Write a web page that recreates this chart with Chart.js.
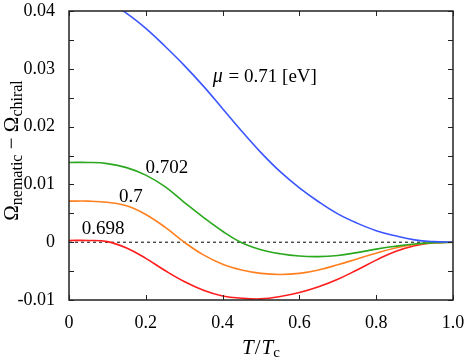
<!DOCTYPE html>
<html>
<head>
<meta charset="utf-8">
<script src="https://cdn.jsdelivr.net/npm/chart.js@4/dist/chart.umd.min.js"></script>
<style>
  html, body { margin: 0; padding: 0; background: #fff; }
</style>
</head>
<body>
<canvas id="myChart" width="464" height="362"></canvas>
<script>
// T / Tc grid
const tValues = [0, 0.05, 0.1, 0.15, 0.2, 0.25, 0.3, 0.35, 0.4, 0.45, 0.5,
                 0.55, 0.6, 0.65, 0.7, 0.75, 0.8, 0.85, 0.9, 0.95, 1.0];

// Omega_nematic - Omega_chiral for each mu [eV]
const mu0710 = [0.0428, 0.0426, 0.0416, 0.0396, 0.0370, 0.0339, 0.0306, 0.0270, 0.0231, 0.0192, 0.0155,
                0.0122, 0.0094, 0.0070, 0.0049, 0.0033, 0.0020, 0.0011, 0.0004, 0.0001, 0];
const mu0702 = [0.0138, 0.0138, 0.0136, 0.0129, 0.0116, 0.0096, 0.0069, 0.0043, 0.0019, -0.0001, -0.0013,
                -0.0020, -0.0024, -0.0025, -0.0023, -0.0018, -0.0012, -0.0007, -0.0003, -0.0001, 0];
const mu0700 = [0.0071, 0.0071, 0.0069, 0.0063, 0.0048, 0.0026, 0.0000, -0.0022, -0.0038, -0.0048, -0.0054,
                -0.0056, -0.0054, -0.0048, -0.0039, -0.0029, -0.0019, -0.0010, -0.0004, -0.0001, 0];
const mu0698 = [0.0003, 0.0003, 0.0001, -0.0010, -0.0028, -0.0049, -0.0068, -0.0083, -0.0093, -0.0097, -0.0098,
                -0.0094, -0.0087, -0.0077, -0.0064, -0.0048, -0.0031, -0.0016, -0.0006, -0.0001, 0];
const zeroLine = [0, 0];

const xTicks = [0, 0.2, 0.4, 0.6, 0.8, 1.0];
const yTicks = [-0.01, -0.005, 0, 0.005, 0.01, 0.015, 0.02, 0.025, 0.03, 0.035, 0.04];

// curve labels (data units)
const curveLabels = [
    {text: '0.702', x: 0.255, y: 0.0129},
    {text: '0.7', x: 0.161, y: 0.0078},
    {text: '0.698', x: 0.089, y: 0.0022}
];

const serif = '"Liberation Serif", "DejaVu Serif", serif';

function pts(values) {
    return values.map((v, i) => ({x: tValues[i], y: v}));
}

function line(values, color) {
    return {
        data: pts(values),
        borderColor: color,
        borderWidth: 1.6,
        pointRadius: 0,
        fill: false,
        tension: 0.4
    };
}

// draw a row of text pieces, some of them as subscripts
function drawPieces(ctx, pieces, cx, baseline) {
    let total = 0;
    pieces.forEach(p => {
        ctx.font = p.font;
        p.w = ctx.measureText(p.text).width + (p.gap || 0);
        total += p.w;
    });
    let x = cx - total / 2;
    pieces.forEach(p => {
        ctx.font = p.font;
        ctx.fillText(p.text, x, baseline + (p.dy || 0));
        x += p.w;
    });
}

const framePlugin = {
    id: 'frame',
    afterDraw(chart) {
        const ctx = chart.ctx;
        const a = chart.chartArea;
        const xs = chart.scales.x;
        const ys = chart.scales.y;
        ctx.save();
        ctx.strokeStyle = '#222';
        ctx.lineWidth = 1.5;
        ctx.strokeRect(a.left, a.top, a.right - a.left, a.bottom - a.top);

        ctx.lineWidth = 1;
        ctx.beginPath();
        xTicks.forEach(t => {
            const px = Math.round(xs.getPixelForValue(t)) + 0.5;
            ctx.moveTo(px, a.bottom); ctx.lineTo(px, a.bottom - 5);
            ctx.moveTo(px, a.top); ctx.lineTo(px, a.top + 5);
        });
        yTicks.forEach(t => {
            const py = Math.round(ys.getPixelForValue(t)) + 0.5;
            ctx.moveTo(a.left, py); ctx.lineTo(a.left + 5, py);
            ctx.moveTo(a.right, py); ctx.lineTo(a.right - 5, py);
        });
        ctx.stroke();

        ctx.fillStyle = '#000';
        ctx.textBaseline = 'middle';
        ctx.textAlign = 'center';
        ctx.font = '19px ' + serif;
        curveLabels.forEach(l => {
            ctx.fillText(l.text, xs.getPixelForValue(l.x), ys.getPixelForValue(l.y));
        });

        ctx.textAlign = 'left';
        ctx.textBaseline = 'alphabetic';
        drawPieces(ctx, [
            {text: 'μ', font: 'italic 20px ' + serif, gap: 1},
            {text: ' = 0.71 [eV]', font: '19px ' + serif}
        ], xs.getPixelForValue(0.51), ys.getPixelForValue(0.0288) + 6);

        // x axis title
        drawPieces(ctx, [
            {text: 'T', font: 'italic 21px ' + serif, gap: 1},
            {text: '/', font: '21px ' + serif, gap: 1},
            {text: 'T', font: 'italic 21px ' + serif},
            {text: 'c', font: '15px ' + serif, dy: 3}
        ], (a.left + a.right) / 2, 354);

        // y axis title
        ctx.translate(18, (a.top + a.bottom) / 2 - 5);
        ctx.rotate(-Math.PI / 2);
        drawPieces(ctx, [
            {text: 'Ω', font: '21px ' + serif},
            {text: 'nematic', font: '16px ' + serif, dy: 4},
            {text: ' − ', font: '21px ' + serif},
            {text: 'Ω', font: '21px ' + serif},
            {text: 'chiral', font: '16px ' + serif, dy: 4}
        ], 0, 0);
        ctx.restore();
    }
};

new Chart(document.getElementById('myChart'), {
    type: 'line',
    data: {
        datasets: [
            line(mu0710, '#3a55ff'),
            line(mu0702, '#2aa81e'),
            line(mu0700, '#ff8020'),
            line(mu0698, '#ff1c1c'),
            {
                data: [{x: 0, y: zeroLine[0]}, {x: 1, y: zeroLine[1]}],
                borderColor: '#000',
                borderWidth: 1,
                borderDash: [3, 3],
                pointRadius: 0
            }
        ]
    },
    options: {
        responsive: false,
        devicePixelRatio: 1,
        animation: false,
        layout: {padding: {top: 11, right: 11, left: 0, bottom: 0}},
        plugins: {legend: {display: false}, tooltip: {enabled: false}},
        scales: {
            x: {
                type: 'linear',
                min: 0,
                max: 1,
                grid: {display: false},
                border: {display: false},
                ticks: {
                    stepSize: 0.2,
                    padding: 4,
                    color: '#000',
                    font: {family: serif, size: 18},
                    maxRotation: 0,
                    callback: v => (v === 0 ? '0' : v.toFixed(1))
                },
                afterFit: s => { s.height = 62; s.paddingLeft = 0; s.paddingRight = 0; }
            },
            y: {
                min: -0.01,
                max: 0.04,
                grid: {display: false},
                border: {display: false},
                ticks: {
                    stepSize: 0.01,
                    padding: 6,
                    color: '#000',
                    font: {family: serif, size: 18},
                    callback: v => {
                        const r = Math.round(v * 100);
                        return r === 0 ? '0' : (r / 100).toFixed(2);
                    }
                },
                afterFit: s => { s.width = 69; s.paddingTop = 0; s.paddingBottom = 0; }
            }
        }
    },
    plugins: [framePlugin]
});
</script>
</body>
</html>
